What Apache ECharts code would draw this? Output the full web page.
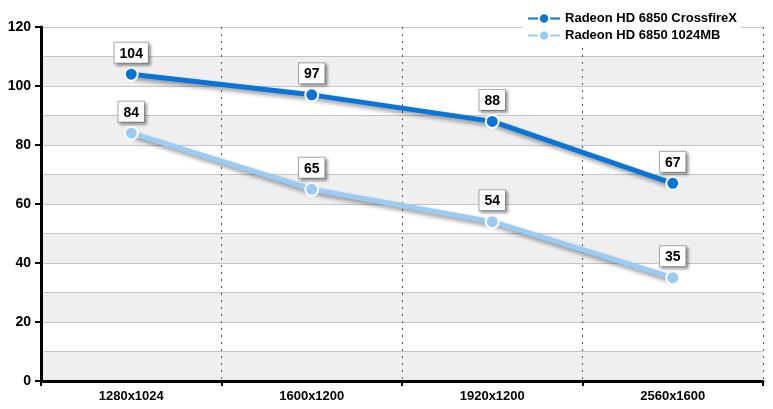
<!DOCTYPE html>
<html><head><meta charset="utf-8">
<script src="https://cdn.jsdelivr.net/npm/echarts@6/dist/echarts.min.js"></script>
<style>html,body{margin:0;padding:0;background:#fff}#c{width:773px;height:409px}</style>
</head><body><div id="c"></div>
<script>
const categories = ['1280x1024', '1600x1200', '1920x1200', '2560x1600'];
const seriesNames = ['Radeon HD 6850 CrossfireX', 'Radeon HD 6850 1024MB'];
const crossfireValues = [104, 97, 88, 67];
const singleValues = [84, 65, 54, 35];
const yMin = 0, yMax = 120, yLabelStep = 20, yBandStep = 10;

const chart = echarts.init(document.getElementById('c'));
const font = 'Arial, "Liberation Sans", sans-serif';
function mkSeries(name, data, color) {
  return {
    name, type: 'line', data, yAxisIndex: 0,
    symbol: 'circle', symbolSize: 13,
    itemStyle: { color, borderColor: '#fff', borderWidth: 2 },
    lineStyle: { color, width: 5, shadowColor: 'rgba(0,0,0,0.4)', shadowBlur: 4, shadowOffsetY: 3, shadowOffsetX: 2 },
    label: {
      show: true, position: 'top', distance: 4,
      color: '#000', fontFamily: font, fontWeight: 'bold', fontSize: 14,
      backgroundColor: '#fff', borderColor: '#aaa', borderWidth: 1,
      padding: [4, 5, 2, 5],
      shadowColor: 'rgba(0,0,0,0.35)', shadowBlur: 3, shadowOffsetX: 2, shadowOffsetY: 2
    },
    emphasis: { disabled: true }, animation: false, z: 3
  };
}
chart.setOption({
  animation: false,
  grid: { left: 41, right: 10, top: 27, bottom: 28, containLabel: false },
  legend: {
    data: seriesNames, right: 32, top: 10, orient: 'vertical', itemGap: 4,
    itemWidth: 32, itemHeight: 13, backgroundColor: '#fff', padding: [2, 4, 2, 4],
    textStyle: { fontFamily: font, fontWeight: 'bold', fontSize: 13, color: '#000' }
  },
  xAxis: {
    type: 'category', data: categories, boundaryGap: true,
    axisLine: { lineStyle: { color: '#000', width: 3 } },
    axisTick: { show: true, length: 5, lineStyle: { color: '#000', width: 2 } },
    axisLabel: { fontFamily: font, fontWeight: 'bold', fontSize: 13, color: '#000', margin: 9 },
    splitLine: { show: true, lineStyle: { color: '#555', type: [2, 5], width: 1 } }
  },
  yAxis: [{
    type: 'value', min: yMin, max: yMax, interval: yBandStep, position: 'left',
    axisLine: { show: false }, axisTick: { show: false }, axisLabel: { show: false },
    splitLine: { show: true, lineStyle: { color: '#c4c4c4', width: 1 } },
    splitArea: { show: true, areaStyle: { color: ['#efefef', '#ffffff'] } }
  }, {
    type: 'value', min: yMin, max: yMax, interval: yLabelStep, position: 'left',
    axisLine: { show: true, lineStyle: { color: '#000', width: 3 } },
    axisTick: { show: true, length: 6, lineStyle: { color: '#000', width: 2 } },
    axisLabel: { fontFamily: font, fontWeight: 'bold', fontSize: 14, color: '#000', margin: 10 },
    splitLine: { show: false }, splitArea: { show: false }
  }],
  series: [
    mkSeries(seriesNames[0], crossfireValues, '#0a75d8'),
    mkSeries(seriesNames[1], singleValues, '#99cbf3')
  ]
});
</script></body></html>
